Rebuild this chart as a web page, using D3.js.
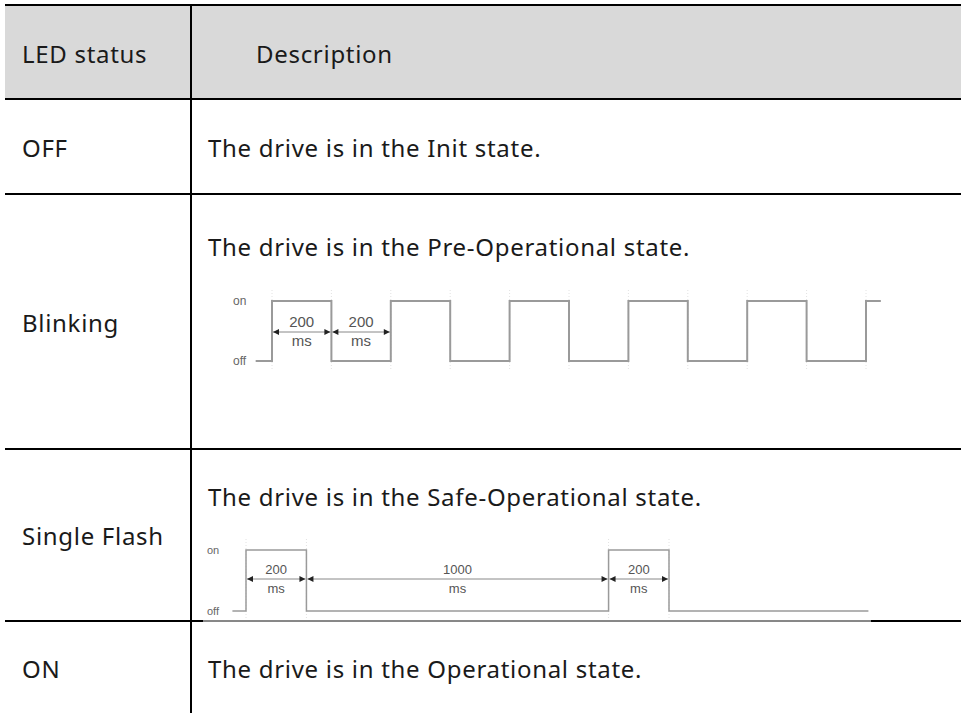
<!DOCTYPE html>
<html><head><meta charset="utf-8">
<script src="https://cdn.jsdelivr.net/npm/d3@7"></script>
<style>html,body{margin:0;padding:0;background:#fff;}</style>
</head><body>
<script>
// ---- data ----
const headers = ["LED status", "Description"];
const statuses = ["OFF", "Blinking", "Single Flash", "ON"];
const descriptions = [
  "The drive is in the Init state.",
  "The drive is in the Pre-Operational state.",
  "The drive is in the Safe-Operational state.",
  "The drive is in the Operational state."
];
// blinking signal: [time ms, level]
const blinkTimes = [-55, 0, 200, 400, 600, 800, 1000, 1200, 1400, 1600, 1800, 2000, 2050];
const blinkLevels = [0, 1, 0, 1, 0, 1, 0, 1, 0, 1, 0, 1, 1];
const blinkDims = [[0, 200, "200", "ms"], [200, 400, "200", "ms"]];
// single flash signal
const flashTimes = [-45, 0, 200, 1200, 1400, 2060];
const flashLevels = [0, 1, 0, 1, 0, 0];
const flashDims = [[0, 200, "200", "ms"], [200, 1200, "1000", "ms"], [1200, 1400, "200", "ms"]];
const levelLabels = ["off", "on"];

// ---- layout ----
const W = 961, H = 713;
const svg = d3.select("body").append("svg").attr("width", W).attr("height", H);
const font = "'Noto Sans', 'Open Sans', sans-serif";
const rowLines = [5, 99, 194, 449, 621];
const left = 5, divX = 191;

// header bg
svg.append("rect").attr("x", left).attr("y", rowLines[0]).attr("width", W - left)
  .attr("height", rowLines[1] - rowLines[0]).attr("fill", "#d9d9d9");

// text
const txt = (x, y, s) => svg.append("text").attr("x", x).attr("y", y).text(s)
  .attr("font-family", font).attr("font-size", 24).attr("letter-spacing", "0.7px").attr("fill", "#1a1a1a");
txt(22, 63, headers[0]);
txt(256, 63, headers[1]);
const statusY = [157, 332, 545, 678];
const descY = [157, 256, 506, 678];
statuses.forEach((s, i) => txt(22, statusY[i], s));
descriptions.forEach((s, i) => txt(208, descY[i], s));

// diagrams
const defs = svg.append("defs");
defs.append("marker").attr("id", "ah").attr("viewBox", "0 0 10 10").attr("refX", 10).attr("refY", 5)
  .attr("markerWidth", 7).attr("markerHeight", 6).attr("markerUnits", "userSpaceOnUse")
  .attr("orient", "auto-start-reverse")
  .append("path").attr("d", "M0,0L10,5L0,10Z").attr("fill", "#222");

function diagram(cfg) {
  const g = svg.append("g");
  const x = d3.scaleLinear().domain(cfg.domain).range(cfg.range);
  const y = d3.scaleLinear().domain([0, 1]).range(cfg.yRange);
  // faint guide lines
  cfg.times.slice(1, -1).forEach(t => {
    g.append("line").attr("x1", x(t)).attr("x2", x(t))
      .attr("y1", y(1) - 11).attr("y2", y(0) + 9)
      .attr("stroke", "#e2e2e2").attr("stroke-width", 1).attr("stroke-dasharray", "1,2");
  });
  const pts = cfg.times.map((t, i) => [t, cfg.levels[i]]);
  g.append("path").datum(pts)
    .attr("d", d3.line().x(d => x(d[0])).y(d => y(d[1])).curve(d3.curveStepAfter))
    .attr("fill", "none").attr("stroke", "#9a9a9a").attr("stroke-width", cfg.sw);
  // level labels
  levelLabels.forEach((l, i) => {
    g.append("text").attr("x", cfg.labelX).attr("y", y(i) + 4).text(l)
      .attr("font-family", "'Liberation Sans', Arial, sans-serif").attr("font-size", cfg.lfs)
      .attr("fill", "#666");
  });
  // dimension arrows
  cfg.dims.forEach(d => {
    const x1 = x(d[0]) + 1, x2 = x(d[1]) - 1;
    g.append("line").attr("x1", x1).attr("x2", x2).attr("y1", cfg.arrowY).attr("y2", cfg.arrowY)
      .attr("stroke", "#888").attr("stroke-width", 1)
      .attr("marker-start", "url(#ah)").attr("marker-end", "url(#ah)");
    const cx = (x(d[0]) + x(d[1])) / 2;
    g.append("text").attr("x", cx).attr("y", cfg.arrowY - 5).attr("text-anchor", "middle").text(d[2])
      .attr("font-family", "'Liberation Sans', Arial, sans-serif").attr("font-size", cfg.fs).attr("fill", "#555");
    g.append("text").attr("x", cx).attr("y", cfg.arrowY + 14).attr("text-anchor", "middle").text(d[3])
      .attr("font-family", "'Liberation Sans', Arial, sans-serif").attr("font-size", cfg.fs).attr("fill", "#555");
  });
  return g;
}

diagram({
  times: blinkTimes, levels: blinkLevels, dims: blinkDims,
  domain: [0, 2000], range: [272, 866], yRange: [361, 301],
  labelX: 233, arrowY: 332, fs: 15, lfs: 12, sw: 2
});
diagram({
  times: flashTimes, levels: flashLevels, dims: flashDims,
  domain: [0, 1400], range: [246, 669], yRange: [611, 550],
  labelX: 207, arrowY: 579, fs: 13, lfs: 11, sw: 1.5
});

// grid lines
const line = (x1, y1, x2, y2, w, c) => svg.append("line").attr("x1", x1).attr("y1", y1)
  .attr("x2", x2).attr("y2", y2).attr("stroke", c || "#000").attr("stroke-width", w);
rowLines.slice(0, 4).forEach(yy => line(left, yy, W, yy, 2));
line(left, 621, 203, 621, 2);
line(203, 621, 871, 621, 1, "#111");
line(871, 621, W, 621, 2);
line(divX, rowLines[0], divX, H, 2);
</script>
</body></html>
